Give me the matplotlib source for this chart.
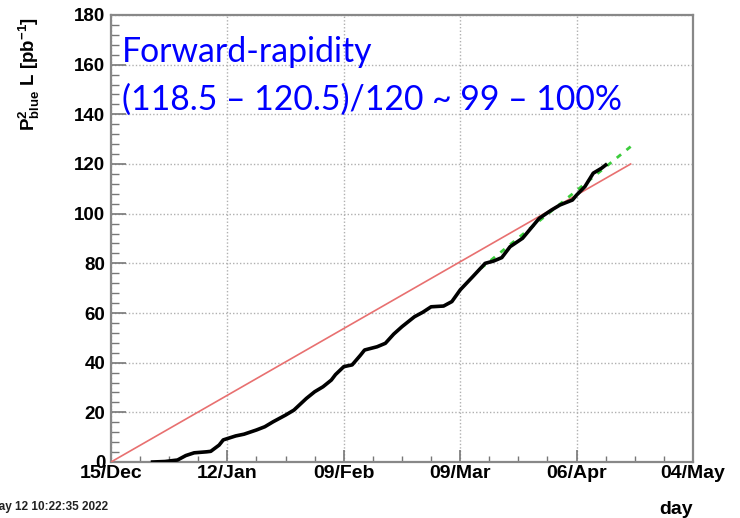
import numpy as np
import matplotlib
matplotlib.use("Agg")
import matplotlib.pyplot as plt
import matplotlib.dates as mdates
from matplotlib.ticker import MultipleLocator

plt.rcParams['mathtext.fontset'] = 'custom'
plt.rcParams['mathtext.rm'] = 'Liberation Sans:bold'
plt.rcParams['mathtext.bf'] = 'Liberation Sans:bold'
plt.rcParams['mathtext.it'] = 'Liberation Sans:bold'

# ---- data ----
start_date = np.datetime64('2021-12-15')
end_date = np.datetime64('2022-05-04')
tick_dates = ['2021-12-15', '2022-01-12', '2022-02-09', '2022-03-09', '2022-04-06', '2022-05-04']
tick_labels = ['15/Dec', '12/Jan', '09/Feb', '09/Mar', '06/Apr', '04/May']

# delivered P^2 L (black curve), day offset from 15 Dec 2021
lumi_days = [10, 13, 16, 18, 20, 23, 24, 26, 27, 30, 32, 35, 37, 39, 42, 44, 47, 49, 51,
             53, 54, 56, 58, 60, 61, 64, 66, 68, 70, 73, 75, 77, 80, 82, 84, 87, 90, 92,
             94, 96, 99, 101, 103, 106, 108, 111, 112, 114, 116, 118, 119]
lumi_vals = [0.0, 0.2, 0.8, 2.6, 3.7, 4.1, 4.3, 6.8, 8.9, 10.5, 11.2, 12.9, 14.2, 16.2,
             18.9, 20.9, 25.6, 28.3, 30.3, 33.0, 35.2, 38.4, 39.1, 43.0, 45.1, 46.4, 47.8,
             51.5, 54.5, 58.5, 60.3, 62.5, 62.8, 64.6, 69.3, 74.6, 80.0, 80.9, 82.3, 86.7,
             90.1, 94.1, 98.1, 101.5, 103.5, 105.5, 107.5, 110.9, 116.3, 118.3, 119.6]

# goal line (red) and projection (green)
goal_days = [0, 125]
goal_vals = [0, 120]
proj_days = [89, 125]
proj_vals = [78, 127]

y_ticks = [0, 20, 40, 60, 80, 100, 120, 140, 160, 180]

def to_dates(days):
    return start_date + np.array(days).astype('timedelta64[D]')

fig = plt.figure(figsize=(7.4, 5.18), dpi=100)
ax = fig.add_axes([111/740, 1 - 462/518, (693-111)/740, (462-15)/518])

ax.plot(to_dates(goal_days), goal_vals, color='#e87070', lw=1.2, zorder=3)
ax.plot(to_dates(proj_days), proj_vals, color='#3ccc3c', lw=2.0,
        linestyle=(0, (2, 2.5)), zorder=4)
ax.plot(to_dates(lumi_days), lumi_vals, color='black', lw=2.6, zorder=5,
        solid_joinstyle='round')

ax.set_xlim(start_date, end_date)
ax.set_ylim(0, 180)
ax.set_xticks(np.array(tick_dates, dtype='datetime64[D]'))
ax.set_xticklabels(tick_labels)
ax.set_xticks(to_dates(np.arange(0, 141, 7)), minor=True)
ax.set_yticks(y_ticks)
ax.yaxis.set_minor_locator(MultipleLocator(4))

for lab in ax.get_xticklabels() + ax.get_yticklabels():
    lab.set_fontfamily('Liberation Sans')
    lab.set_fontweight('bold')
for lab in ax.get_xticklabels():
    lab.set_fontsize(14)
for lab in ax.get_yticklabels():
    lab.set_fontsize(13.5)

ax.tick_params(axis='x', which='major', direction='in', length=8.5, width=1.2,
               color='#777777', pad=2, top=False)
ax.tick_params(axis='x', which='minor', direction='in', length=4.5, width=1.0,
               color='#777777', top=False)
ax.tick_params(axis='y', which='major', direction='in', length=11, width=1.2,
               color='#777777', pad=4, right=False)
ax.tick_params(axis='y', which='minor', direction='in', length=5.5, width=1.0,
               color='#777777', right=False)

ax.grid(True, which='major', color='#b0b0b0', linestyle=(0, (1, 1.5)), lw=1.0)
for s in ax.spines.values():
    s.set_color('#888888')
    s.set_linewidth(1.6)

ax.set_ylabel(r'$\mathbf{P^{2}_{blue}}$ L [pb$^{\mathbf{-1}}$]', fontfamily='Liberation Sans',
              fontweight='bold', fontsize=13.5, loc='top')
ax.yaxis.set_label_coords(-0.118, 0.995)
ax.set_xlabel('day', fontfamily='Liberation Sans', fontweight='bold', fontsize=14,
              loc='right', labelpad=14)

fig.text(122/740, 1 - 62/518, 'Forward-rapidity', color='#0000ff', fontsize=24.3,
         fontfamily='Lato', va='baseline', ha='left')
fig.text(122/740, 1 - 110/518, '(118.5 \u2013 120.5)/120 ~ 99 \u2013 100%', color='#0000ff',
         fontsize=24.3, fontfamily='Lato', va='baseline', ha='left')

fig.text(108/740, 1 - 507/518, 'Thu May 12 10:22:35 2022', fontsize=8.5,
         fontfamily='Liberation Sans', fontweight='bold', color='#222222',
         ha='right', va='center')

fig.savefig('out.png', dpi=100)
